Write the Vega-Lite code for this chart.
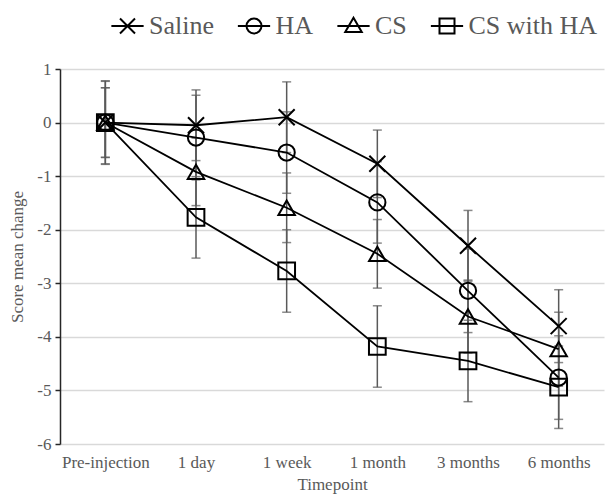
{
  "$schema": "https://vega.github.io/schema/vega-lite/v6.json",
  "width": 544,
  "height": 375,
  "autosize": {"type": "none"},
  "padding": {"left": 60, "top": 69, "right": 7, "bottom": 55},
  "background": "white",
  "config": {
    "view": {"stroke": null},
    "font": "Liberation Serif",
    "axis": {"labelFont": "Liberation Serif", "titleFont": "Liberation Serif", "labelColor": "#595959", "titleColor": "#595959", "titleFontWeight": "normal", "labelFontSize": 17, "titleFontSize": 17}
  },
  "data": {
    "values": [
      {"t": "Pre-injection", "series": "Saline", "v": 0, "err": 0.78},
      {"t": "1 day", "series": "Saline", "v": -0.05, "err": 0.66},
      {"t": "1 week", "series": "Saline", "v": 0.1, "err": 0.66},
      {"t": "1 month", "series": "Saline", "v": -0.77, "err": 0.63},
      {"t": "3 months", "series": "Saline", "v": -2.3, "err": 0.66},
      {"t": "6 months", "series": "Saline", "v": -3.8, "err": 0.68},
      {"t": "Pre-injection", "series": "HA", "v": 0, "err": 0.65},
      {"t": "1 day", "series": "HA", "v": -0.28, "err": 0.79},
      {"t": "1 week", "series": "HA", "v": -0.56, "err": 0.76},
      {"t": "1 month", "series": "HA", "v": -1.49, "err": 0.76},
      {"t": "3 months", "series": "HA", "v": -3.14, "err": 0.78},
      {"t": "6 months", "series": "HA", "v": -4.76, "err": 0.78},
      {"t": "Pre-injection", "series": "CS", "v": 0, "err": 0.65},
      {"t": "1 day", "series": "CS", "v": -0.92, "err": 0.63},
      {"t": "1 week", "series": "CS", "v": -1.59, "err": 0.65},
      {"t": "1 month", "series": "CS", "v": -2.45, "err": 0.64},
      {"t": "3 months", "series": "CS", "v": -3.62, "err": 0.68},
      {"t": "6 months", "series": "CS", "v": -4.23, "err": 0.69},
      {"t": "Pre-injection", "series": "CS with HA", "v": 0, "err": 0.77},
      {"t": "1 day", "series": "CS with HA", "v": -1.77, "err": 0.76},
      {"t": "1 week", "series": "CS with HA", "v": -2.77, "err": 0.77},
      {"t": "1 month", "series": "CS with HA", "v": -4.18, "err": 0.76},
      {"t": "3 months", "series": "CS with HA", "v": -4.45, "err": 0.76},
      {"t": "6 months", "series": "CS with HA", "v": -4.94, "err": 0.77}
    ]
  },
  "encoding": {
    "x": {
      "field": "t", "type": "ordinal",
      "sort": ["Pre-injection", "1 day", "1 week", "1 month", "3 months", "6 months"],
      "scale": {"type": "point", "padding": 0.5},
      "axis": {"title": "Timepoint", "labelAngle": 0, "domain": false, "ticks": false, "grid": false, "labelPadding": 10, "titlePadding": 6}
    }
  },
  "layer": [
    {
      "mark": {"type": "errorbar", "ticks": {"size": 9, "color": "#595959", "thickness": 1.5}, "rule": {"color": "#595959", "strokeWidth": 1.5}},
      "encoding": {
        "y": {
          "field": "v", "type": "quantitative",
          "scale": {"domain": [-6, 1], "nice": false, "zero": false},
          "axis": {"title": "Score mean change", "labelExpr": "'' + datum.value", "values": [-6, -5, -4, -3, -2, -1, 0, 1], "grid": true, "gridColor": "#d9d9d9", "gridWidth": 1.5, "domain": true, "domainColor": "#262626", "domainWidth": 1.5, "ticks": true, "tickColor": "#262626", "tickSize": 5, "tickWidth": 1.5, "labelPadding": 4, "titlePadding": 10}
        },
        "yError": {"field": "err"},
        "detail": {"field": "series"}
      }
    },
    {
      "mark": {"type": "line", "color": "black", "strokeWidth": 1.8},
      "encoding": {
        "y": {"field": "v", "type": "quantitative"},
        "detail": {"field": "series"}
      }
    },
    {
      "mark": {"type": "point", "filled": false, "color": "black", "strokeWidth": 2, "opacity": 1},
      "encoding": {
        "y": {"field": "v", "type": "quantitative"},
        "shape": {
          "field": "series", "type": "nominal",
          "scale": {"domain": ["Saline", "HA", "CS", "CS with HA"], "range": ["M-1,-1L1,1M-1,1L1,-1", "circle", "triangle-up", "square"]},
          "legend": null
        },
        "size": {
          "field": "series", "type": "nominal",
          "scale": {"domain": ["Saline", "HA", "CS", "CS with HA"], "range": [256, 280, 256, 280]},
          "legend": null
        }
      }
    },
    {
      "transform": [{"filter": "datum.series == 'none'"}],
      "mark": {"type": "point", "filled": false, "color": "black", "strokeWidth": 2, "opacity": 1},
      "encoding": {
        "y": {"field": "v", "type": "quantitative"},
        "shape": {
          "field": "series", "type": "nominal",
          "scale": {"domain": ["Saline", "HA", "CS", "CS with HA"], "range": ["M-2.15,0L2.15,0M-1,-1L1,1M-1,1L1,-1", "M-2.15,0L2.15,0M1,0A1,1 0 1,1 -1,0A1,1 0 1,1 1,0Z", "M-2.15,0L2.15,0M0,-1.1L1.1,0.8L-1.1,0.8Z", "M-2.15,0L2.15,0M-1,-1L1,-1L1,1L-1,1Z"]},
          "legend": {
            "title": null, "orient": "none", "direction": "horizontal",
            "legendX": 54.5, "legendY": -56, "padding": 0,
            "symbolSize": 225, "symbolStrokeWidth": 2, "symbolStrokeColor": "black", "symbolFillColor": "transparent",
            "labelFont": "Liberation Serif", "labelFontSize": 26, "labelColor": "#595959",
            "labelOffset": 8.5, "columnPadding": 18.5, "labelLimit": 300
          }
        }
      }
    }
  ],
  "resolve": {"scale": {"shape": "independent"}}
}
